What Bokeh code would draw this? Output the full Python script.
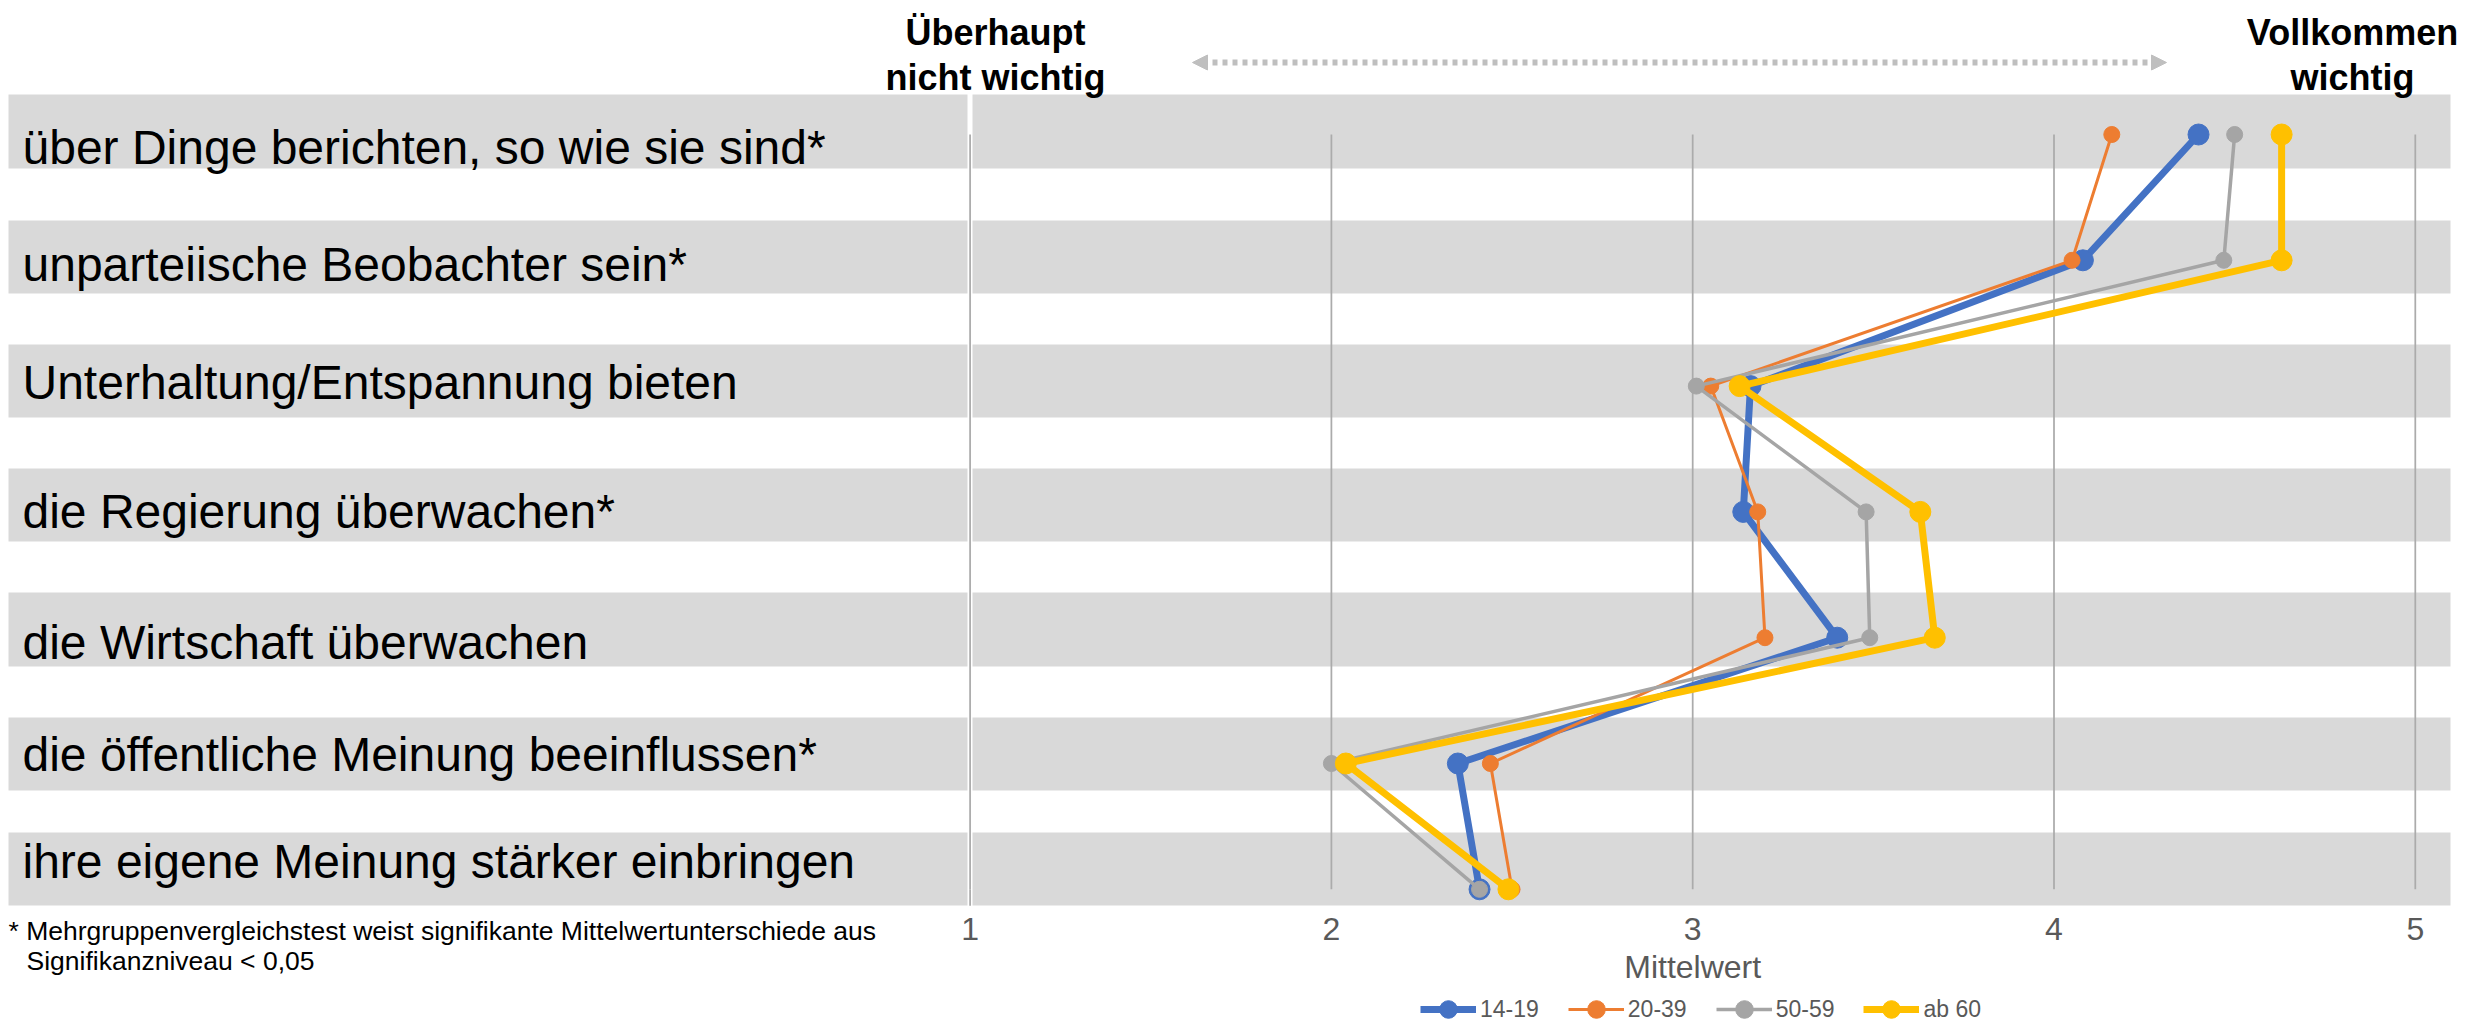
from bokeh.plotting import figure
from bokeh.models import (ColumnDataSource, Range1d, Legend, LegendItem, Arrow, NormalHead)
from bokeh.core.properties import value
from bokeh.embed import file_html
from bokeh.resources import INLINE

# ---------------- data ----------------
categories = [
    "über Dinge berichten, so wie sie sind*",
    "unparteiische Beobachter sein*",
    "Unterhaltung/Entspannung bieten",
    "die Regierung überwachen*",
    "die Wirtschaft überwachen",
    "die öffentliche Meinung beeinflussen*",
    "ihre eigene Meinung stärker einbringen",
]
series_names = ["14-19", "20-39", "50-59", "ab 60"]
v_14_19 = [4.40, 4.08, 3.16, 3.14, 3.40, 2.35, 2.41]
v_20_39 = [4.16, 4.05, 3.05, 3.18, 3.20, 2.44, 2.50]
v_50_59 = [4.50, 4.47, 3.01, 3.48, 3.49, 2.00, 2.41]
v_ab_60 = [4.63, 4.63, 3.13, 3.63, 3.67, 2.04, 2.49]
ticks = [1, 2, 3, 4, 5]
tick_labels = ["1", "2", "3", "4", "5"]
x_title = "Mittelwert"
left_header = ["Überhaupt", "nicht wichtig"]
right_header = ["Vollkommen", "wichtig"]
footnote = ["* Mehrgruppenvergleichstest weist signifikante Mittelwertunterschiede aus",
            "Signifikanzniveau < 0,05"]

# ---------------- styles / layout ----------------
FONT_NAME = "Liberation Sans"
FONT = value(FONT_NAME)
W, H = 2476, 1025
colors = ["#4472C4", "#ED7D31", "#A5A5A5", "#FFC000"]
widths = [7, 3, 3.5, 7]
msizes = [21, 16, 16, 21]

# value -> page x : 969.6 + (v-1)*361.3 ; row k -> page y : 134 + 125.8*k
PX_PER_UNIT = 361.3
X1_PAGE = 969.6
ROW0_PAGE = 134.0
ROW_STEP = 125.8
x_start = 1 - X1_PAGE / PX_PER_UNIT
x_end = 1 + (W - X1_PAGE) / PX_PER_UNIT
y_top = (0 - ROW0_PAGE) / ROW_STEP
y_bot = (H - ROW0_PAGE) / ROW_STEP

p = figure(width=W, height=H, x_range=Range1d(x_start, x_end), y_range=Range1d(y_bot, y_top),
           x_axis_type=None, y_axis_type=None, output_backend="svg", toolbar_location=None,
           min_border=0, min_border_left=0, min_border_right=0, min_border_top=0, min_border_bottom=0)
p.outline_line_color = None
p.background_fill_color = "white"
p.border_fill_color = "white"
p.grid.visible = False
p.extra_x_ranges = {"px": Range1d(0, W)}
p.extra_y_ranges = {"px": Range1d(H, 0)}

# background bands (layout, page px)
band_top = [94, 220, 344, 468, 592, 717, 832]
band_bot = [168, 293, 417, 541, 666, 790, 905]
p.quad(left=[8] * 7, right=[967] * 7, top=band_top, bottom=band_bot, fill_color="#D9D9D9",
       line_color=None, x_range_name="px", y_range_name="px")
p.quad(left=[972] * 7, right=[2450] * 7, top=band_top, bottom=band_bot, fill_color="#D9D9D9",
       line_color=None, x_range_name="px", y_range_name="px")

# vertical gridlines from first to last category
rows = list(range(len(categories)))
p.segment(x0=ticks, x1=ticks, y0=[rows[0]] * len(ticks), y1=[rows[-1]] * len(ticks),
          line_color="#ABABAB", line_width=1.75)
p.segment(x0=[ticks[0]], x1=[ticks[0]], y0=[rows[-1]], y1=[6.13], line_color="#ABABAB", line_width=1.75)

# series
legend_items = []
for name, vals, c, lw, ms in zip(series_names, [v_14_19, v_20_39, v_50_59, v_ab_60], colors, widths, msizes):
    src = ColumnDataSource(dict(x=vals, y=rows, cat=categories))
    lr = p.line("x", "y", source=src, line_color=c, line_width=lw, line_join="round")
    sr = p.scatter("x", "y", source=src, size=ms, fill_color=c, line_color=c, line_width=1)
    legend_items.append(LegendItem(label=name, renderers=[lr, sr]))

# category labels
label_base = [147, 264, 382, 511, 642, 754, 861]
p.text(x=[22] * len(categories), y=label_base, text=categories, x_range_name="px", y_range_name="px",
       text_font=FONT, text_font_size="48px", text_color="#000000", text_baseline="alphabetic",
       text_align="left")

# tick labels and axis title
p.text(x=ticks, y=[928] * len(ticks), text=tick_labels, y_range_name="px", text_font=FONT,
       text_font_size="32px", text_color="#595959", text_baseline="alphabetic", text_align="center")
p.text(x=[3], y=[966], text=[x_title], y_range_name="px", text_font=FONT, text_font_size="32px",
       text_color="#595959", text_baseline="alphabetic", text_align="center")

# headers
p.text(x=[995, 995], y=[32, 77], text=left_header, x_range_name="px", y_range_name="px", text_font=FONT,
       text_font_size="36px", text_font_style="bold", text_color="#000000", text_baseline="alphabetic",
       text_align="center")
p.text(x=[2352, 2352], y=[32, 77], text=right_header, x_range_name="px", y_range_name="px", text_font=FONT,
       text_font_size="36px", text_font_style="bold", text_color="#000000", text_baseline="alphabetic",
       text_align="center")

# dotted double arrow
arrow = Arrow(start=NormalHead(size=15, fill_color="#BFBFBF", line_color="#BFBFBF"),
              end=NormalHead(size=15, fill_color="#BFBFBF", line_color="#BFBFBF"),
              x_start=1192, y_start=62, x_end=2166, y_end=62,
              line_color="#BFBFBF", line_width=6, line_dash="5 5",
              x_range_name="px", y_range_name="px")
p.add_layout(arrow)

# footnote
p.text(x=[8, 26], y=[930, 960], text=footnote, x_range_name="px", y_range_name="px", text_font=FONT,
       text_font_size="26.5px", text_color="#000000", text_baseline="alphabetic", text_align="left")

# legend
legend = Legend(items=legend_items, orientation="horizontal", location=(1420, -6),
                glyph_width=56, glyph_height=44, label_height=44, label_standoff=4, spacing=29,
                padding=0, margin=0, border_line_color=None, background_fill_alpha=0,
                label_text_font=FONT_NAME, label_text_font_size="23px", label_text_color="#595959")
p.add_layout(legend)

open("out.html", "w").write(file_html(p, INLINE))
